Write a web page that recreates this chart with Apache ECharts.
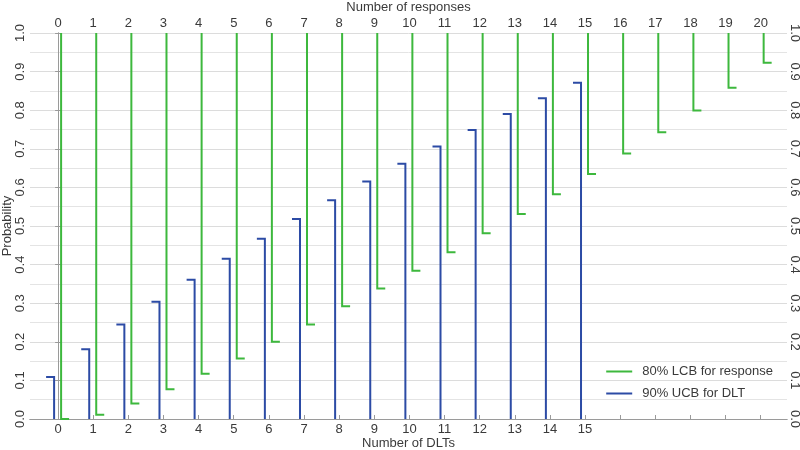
<!DOCTYPE html>
<html>
<head>
<meta charset="utf-8">
<script src="https://cdn.jsdelivr.net/npm/echarts@6/dist/echarts.min.js"></script>
<style>
  html, body { margin: 0; padding: 0; background: #fff; }
  #chart { width: 800px; height: 450px; }
</style>
</head>
<body>
<div id="chart"></div>
<script>
// Number of DLTs (bottom axis) and 90% upper confidence bound
const dltCounts = [0, 1, 2, 3, 4, 5, 6, 7, 8, 9, 10, 11, 12, 13, 14, 15]
const dltUcb = [0.109, 0.181, 0.245, 0.304, 0.361, 0.415, 0.467, 0.518, 0.567, 0.615,
  0.661, 0.706, 0.749, 0.790, 0.831, 0.871]

// Number of responses (top axis) and 80% lower confidence bound
const respCounts = [0, 1, 2, 3, 4, 5, 6, 7, 8, 9, 10, 11, 12, 13, 14, 15, 16, 17, 18, 19, 20]
const respLcb = [0, 0.011, 0.040, 0.077, 0.117, 0.157, 0.200, 0.245, 0.292, 0.338, 0.384,
  0.432, 0.481, 0.531, 0.582, 0.635, 0.688, 0.743, 0.799, 0.858, 0.923]

const yTicks = [0, 0.1, 0.2, 0.3, 0.4, 0.5, 0.6, 0.7, 0.8, 0.9, 1.0]

const GREEN = '#3db83d'
const BLUE = '#2c4ba5'
const GRAY = '#9a9a9a'
const TEXT = '#3a3a3a'
const FONT = 'Liberation Sans'
const FS = 13

const chart = echarts.init(document.getElementById('chart'))

// blue: vertical from 0 up to the bound, short step to the left
function renderUcb(params, api) {
  const x = api.value(0)
  const top = api.coord([x, api.value(1)])
  const bottom = api.coord([x, 0])
  const dx = -4
  return {
    type: 'polyline',
    shape: { points: [[bottom[0] + dx, bottom[1]], [top[0] + dx, top[1]], [top[0] + dx - 8, top[1]]] },
    style: { stroke: BLUE, lineWidth: 2, fill: null }
  }
}

// green: vertical from 1 down to the bound, short step to the right
function renderLcb(params, api) {
  const x = api.value(0)
  const low = api.coord([x, api.value(1)])
  const top = api.coord([x, 1])
  const dx = 3
  return {
    type: 'polyline',
    shape: { points: [[top[0] + dx, top[1]], [low[0] + dx, low[1]], [low[0] + dx + 8, low[1]]] },
    style: { stroke: GREEN, lineWidth: 2, fill: null }
  }
}

const xBase = {
  type: 'value',
  min: -0.8,
  max: 20.75,
  nameLocation: 'middle',
  nameMoveOverlap: false,
  nameTextStyle: { fontFamily: FONT, fontSize: FS, color: TEXT },
  axisLine: { show: true, lineStyle: { color: GRAY, width: 1 } },
  axisTick: { show: true, length: 4, lineStyle: { color: GRAY } },
  axisLabel: { fontFamily: FONT, fontSize: FS, color: TEXT, margin: 4 },
  splitLine: { show: false },
  minorTick: { show: false },
  minorSplitLine: { show: false }
}

chart.setOption({
  animation: false,
  backgroundColor: '#fff',
  grid: { left: 30, right: 13, top: 33, bottom: 31, outerBoundsMode: 'none', containLabel: false },
  legend: {
    right: 22,
    top: 360,
    orient: 'vertical',
    itemWidth: 26,
    itemHeight: 2,
    itemGap: 9,
    icon: 'rect',
    textStyle: { fontFamily: FONT, fontSize: FS, color: TEXT, padding: [0, 0, 0, 5] },
    data: [
      { name: '80% LCB for response', itemStyle: { color: GREEN } },
      { name: '90% UCB for DLT', itemStyle: { color: BLUE } }
    ]
  },
  xAxis: [
    Object.assign({}, xBase, {
      position: 'bottom',
      name: 'Number of DLTs',
      nameGap: 18,
      axisTick: { show: false },
      axisLabel: Object.assign({}, xBase.axisLabel, { customValues: dltCounts })
    }),
    Object.assign({}, xBase, {
      position: 'top',
      name: 'Number of responses',
      nameGap: 19,
      axisTick: Object.assign({}, xBase.axisTick, { customValues: respCounts }),
      axisLabel: Object.assign({}, xBase.axisLabel, { customValues: respCounts, margin: 3 })
    })
  ],
  yAxis: [
    {
      type: 'value',
      position: 'left',
      min: 0,
      max: 1,
      interval: 0.1,
      name: 'Probability',
      nameLocation: 'middle',
      nameMoveOverlap: false,
      nameGap: 16,
      nameTextStyle: { fontFamily: FONT, fontSize: FS, color: TEXT },
      axisLine: { show: true, lineStyle: { color: GRAY } },
      axisTick: { show: true, length: 3, lineStyle: { color: GRAY }, customValues: yTicks },
      axisLabel: {
        fontFamily: FONT, fontSize: FS, color: TEXT, rotate: 90, margin: 3,
        customValues: yTicks,
        formatter: (v) => v.toFixed(1)
      },
      splitLine: { show: true, lineStyle: { color: '#dcdcdc', width: 1 } },
      minorTick: { show: false, splitNumber: 2 },
      minorSplitLine: { show: true, lineStyle: { color: '#e4e4e4', width: 1 } }
    },
    {
      type: 'value',
      position: 'right',
      min: 0,
      max: 1,
      interval: 0.1,
      axisLine: { show: true, lineStyle: { color: GRAY } },
      axisTick: { show: true, length: 3, lineStyle: { color: GRAY }, customValues: yTicks },
      axisLabel: {
        fontFamily: FONT, fontSize: FS, color: TEXT, rotate: -90, margin: 1,
        customValues: yTicks,
        formatter: (v) => v.toFixed(1)
      },
      splitLine: { show: false }
    }
  ],
  series: [
    {
      name: '80% LCB for response',
      type: 'custom',
      xAxisIndex: 1,
      yAxisIndex: 0,
      renderItem: renderLcb,
      data: respCounts.map((k, i) => [k, respLcb[i]]),
      itemStyle: { color: GREEN },
      z: 3
    },
    {
      name: '90% UCB for DLT',
      type: 'custom',
      xAxisIndex: 0,
      yAxisIndex: 0,
      renderItem: renderUcb,
      data: dltCounts.map((k, i) => [k, dltUcb[i]]),
      itemStyle: { color: BLUE },
      z: 3
    }
  ]
})
</script>
</body>
</html>
